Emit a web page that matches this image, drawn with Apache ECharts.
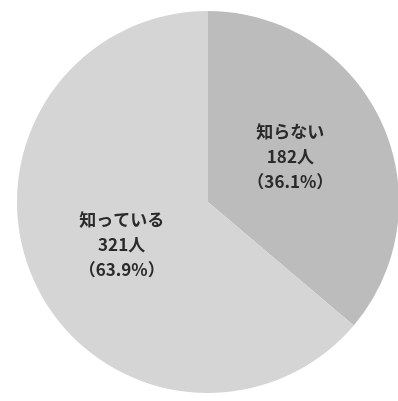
<!DOCTYPE html>
<html><head><meta charset="utf-8">
<script src="https://cdn.jsdelivr.net/npm/echarts@6/dist/echarts.min.js"></script>
<style>html,body{margin:0;padding:0;background:#fff}#c{width:398px;height:401px}</style>
</head><body><div id="c"></div>
<script>
var categories = ['知らない', '知っている'];
var counts = [182, 321];
var percents = ['36.1%', '63.9%'];
var colors = ['#bcbcbc', '#d5d5d5'];
var labelOffsets = [[-7, -4], [3, 1]];

var chart = echarts.init(document.getElementById('c'), null, {renderer: 'canvas'});
chart.setOption({
  backgroundColor: '#ffffff',
  animation: false,
  series: [{
    type: 'pie',
    center: [208, 202],
    radius: [0, 191],
    startAngle: 90,
    clockwise: true,
    data: categories.map(function (c, i) {
      return {name: c, value: counts[i], pct: percents[i], itemStyle: {color: colors[i]},
        label: {offset: labelOffsets[i]}};
    }),
    label: {
      position: 'inside',
      formatter: function (p) { return p.name + '\n' + p.value + '人\n（' + p.data.pct + '）'; },
      fontFamily: 'Noto Sans CJK JP',
      fontSize: 17,
      lineHeight: 25,
      color: '#2a2a2a',
      fontWeight: 'bold'
    },
    labelLine: {show: false},
    itemStyle: {borderWidth: 0},
    emphasis: {disabled: true}
  }]
});
</script></body></html>
